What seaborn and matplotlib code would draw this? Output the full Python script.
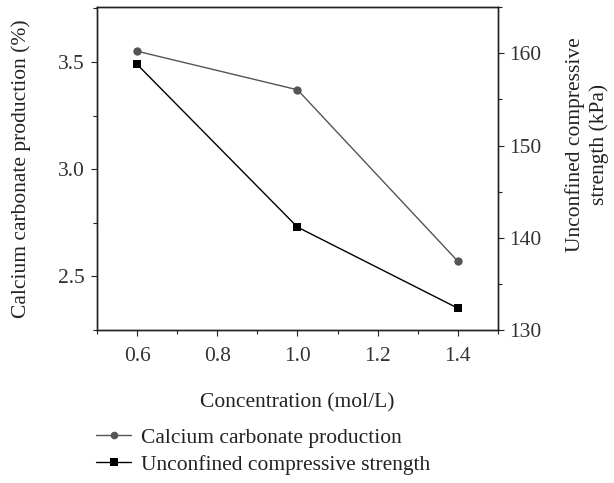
import matplotlib
matplotlib.use("Agg")
import matplotlib.pyplot as plt
import seaborn as sns
import pandas as pd
from matplotlib.ticker import MultipleLocator
from matplotlib.lines import Line2D

concentration = [0.6, 1.0, 1.4]
calcium_production = [3.55, 3.37, 2.57]
ucs_strength = [158.8, 141.15, 132.35]

sns.set_style("ticks")
plt.rcParams['font.family'] = ['Liberation Serif', 'DejaVu Serif']

df = pd.DataFrame({"conc": concentration, "ca": calcium_production, "ucs": ucs_strength})

fig = plt.figure(figsize=(6.14, 4.83), dpi=100)
ax = fig.add_axes([0.158, 0.317, 0.653, 0.668])
ax2 = ax.twinx()

c_ca = "#555555"
c_ucs = "#000000"
sns.lineplot(data=df, x="conc", y="ca", ax=ax, color=c_ca, marker="o", markersize=6,
             markeredgewidth=0, linewidth=1.0)
sns.lineplot(data=df, x="conc", y="ucs", ax=ax2, color=c_ucs, marker="s", markersize=6,
             markeredgewidth=0, linewidth=1.0)

ax.set_xlim(0.5, 1.5)
ax.set_ylim(2.25, 3.755)
ax2.set_ylim(130, 165)

ax.set_xticks([0.6, 0.8, 1.0, 1.2, 1.4])
ax.xaxis.set_minor_locator(MultipleLocator(0.1))
ax.yaxis.set_major_locator(MultipleLocator(0.5))
ax.yaxis.set_minor_locator(MultipleLocator(0.25))
ax2.yaxis.set_major_locator(MultipleLocator(10))
ax2.yaxis.set_minor_locator(MultipleLocator(5))

tc = "#333333"
fs = 15.5
for a in (ax, ax2):
    a.tick_params(axis="both", which="major", direction="out", length=4, width=0.8,
                  labelsize=fs, labelcolor=tc, color="#222222")
    a.tick_params(axis="both", which="minor", direction="out", length=3, width=0.8, color="#222222")
    for s in a.spines.values():
        s.set_linewidth(1.0)
        s.set_color("#222222")
ax.tick_params(axis="x", which="major", pad=8)
ax.tick_params(axis="y", which="major", pad=5)
ax2.tick_params(axis="y", which="major", pad=4)

ax.set_xlabel("Concentration (mol/L)", fontsize=fs, color="#222222", labelpad=20)
ax.set_ylabel("Calcium carbonate production (%)", fontsize=fs, color="#222222", labelpad=19)
ax2.set_ylabel("Unconfined compressive\nstrength (kPa)", fontsize=fs, color="#222222",
               linespacing=1.25)
ax2.yaxis.set_label_coords(1.168, 0.575)

handles = [
    Line2D([], [], color=c_ca, marker="o", markersize=5.5, markeredgewidth=0, linewidth=1.0),
    Line2D([], [], color=c_ucs, marker="s", markersize=5.5, markeredgewidth=0, linewidth=1.0),
]
labels = ["Calcium carbonate production", "Unconfined compressive strength"]
fig.legend(handles, labels, loc="upper left", bbox_to_anchor=(0.157, 0.114), frameon=False,
           fontsize=fs, handlelength=1.6, handletextpad=0.45, labelspacing=0.3,
           borderaxespad=0, borderpad=0, labelcolor="#222222")

fig.savefig("out.png", dpi=100)
